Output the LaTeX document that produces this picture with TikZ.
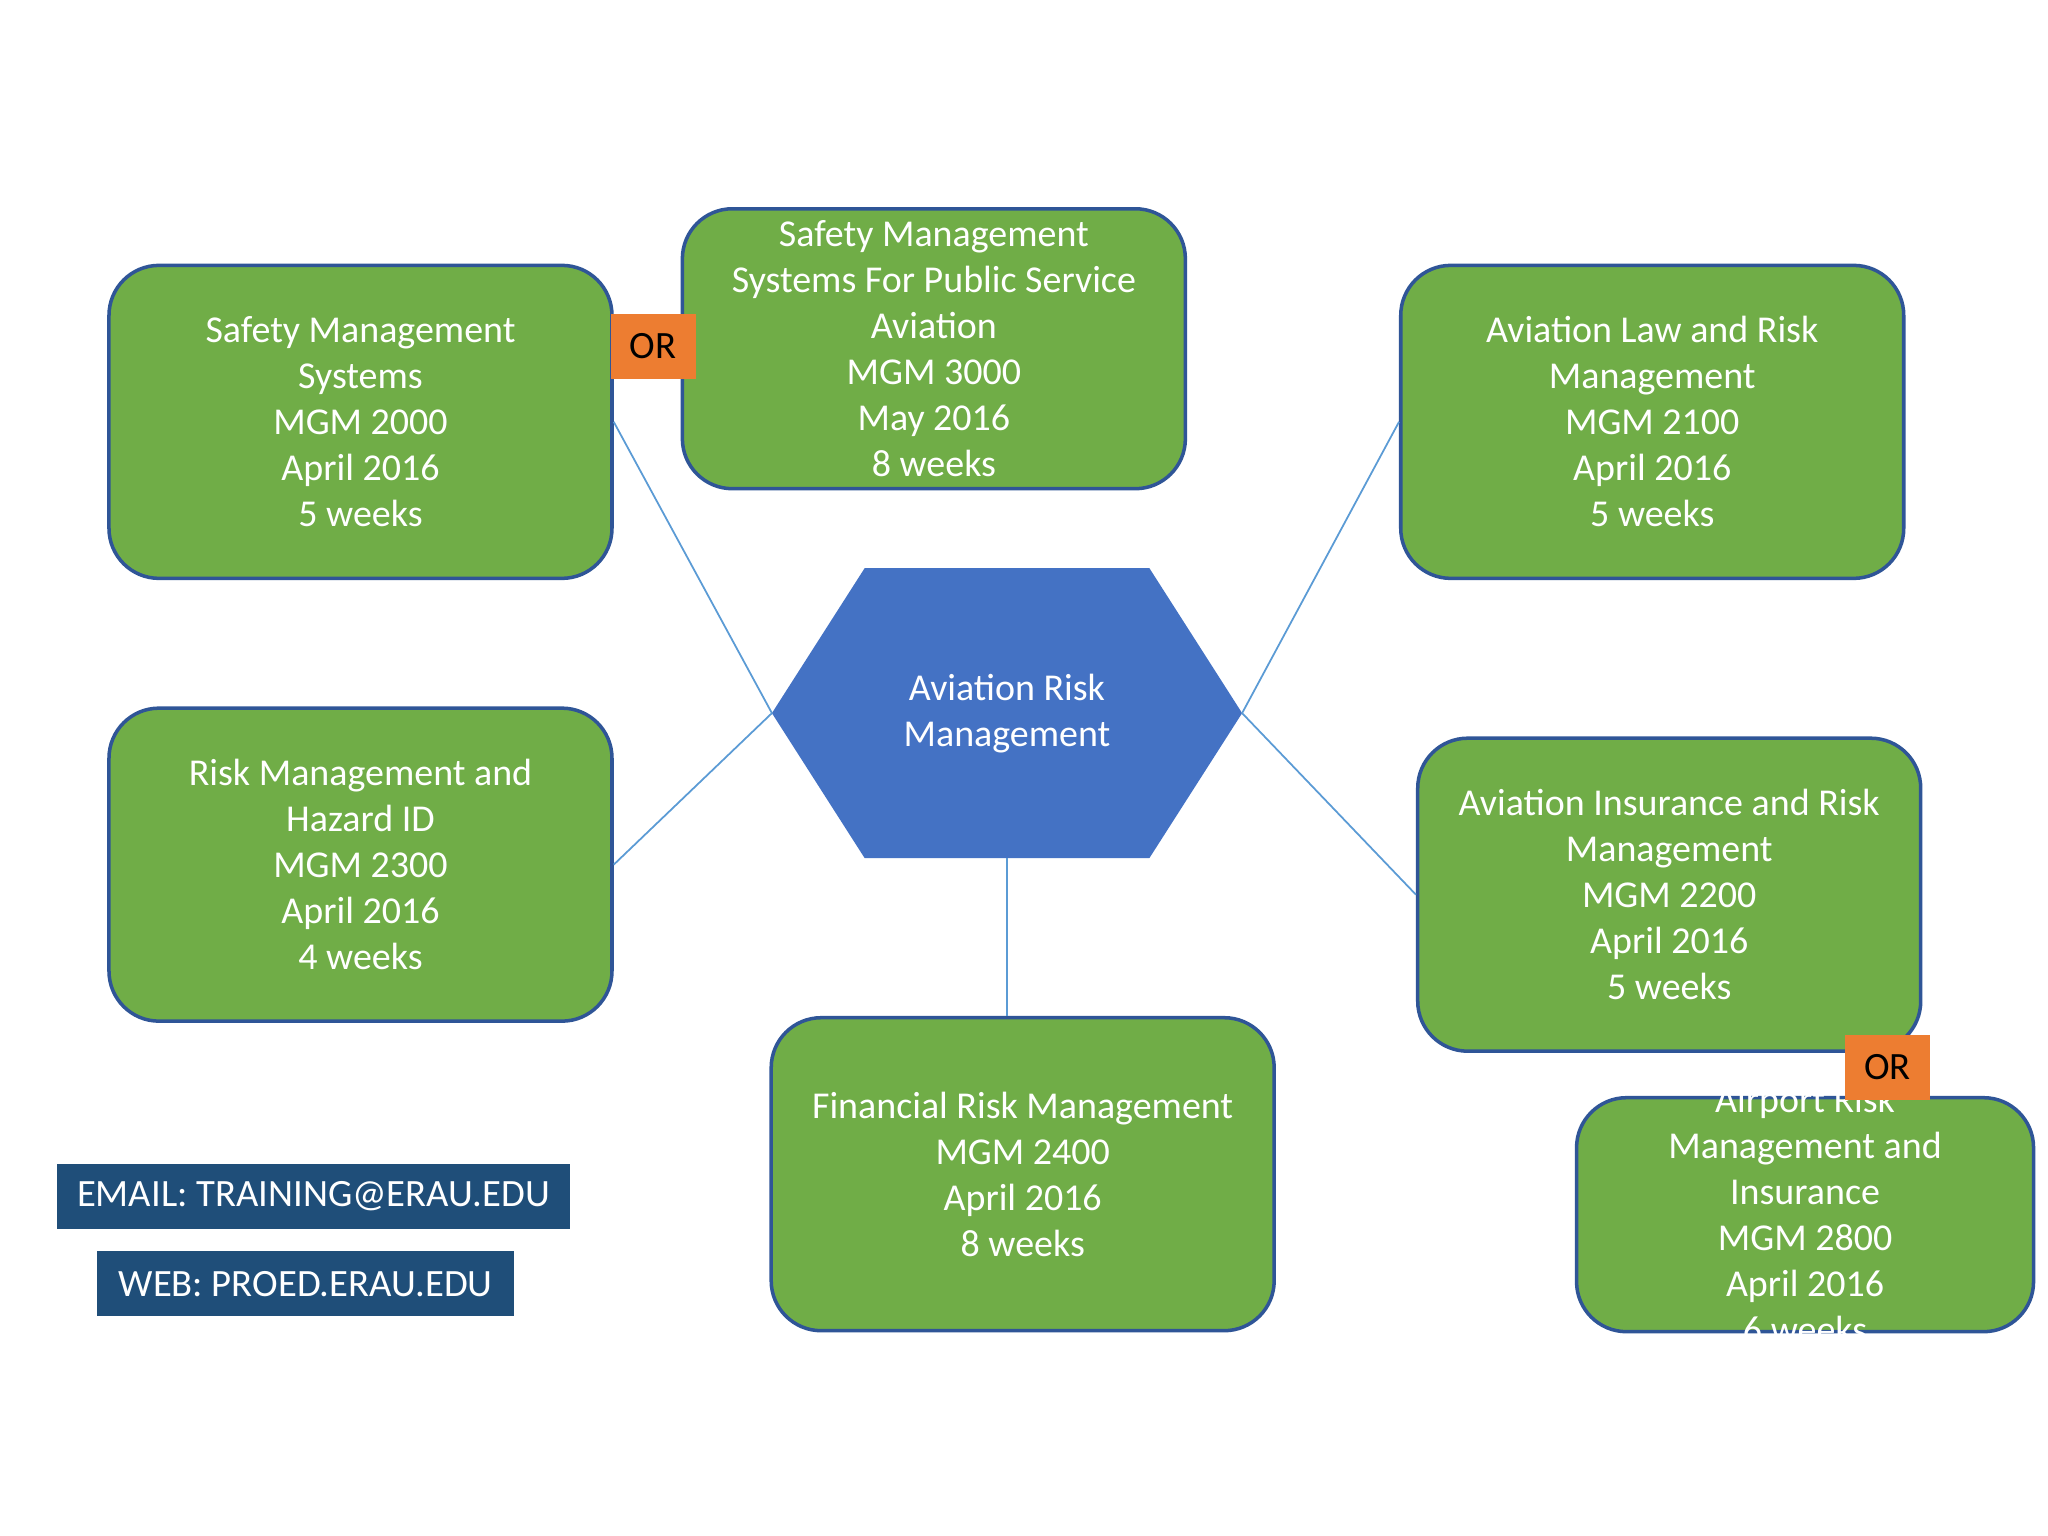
\documentclass[tikz,border=0pt]{standalone}
\usepackage{fontspec}
\setmainfont{Carlito}
\definecolor{course green}{HTML}{70AD47}
\definecolor{course edge}{HTML}{2F5597}
\definecolor{hub blue}{HTML}{4472C4}
\definecolor{link blue}{HTML}{5B9BD5}
\definecolor{or orange}{HTML}{ED7D31}
\definecolor{contact blue}{HTML}{1F4E79}
\tikzset{
  course/.style={draw=course edge, line width=1pt, fill=course green, rounded corners=0.5cm,
    text=white, align=center, minimum width=5.03cm, minimum height=3.13cm,
    font=\fontsize{10.8}{13.1}\selectfont},
  orbox/.style={fill=or orange, minimum width=0.85cm, minimum height=0.65cm,
    font=\fontsize{11}{13}\selectfont},
  contact/.style={fill=contact blue, text=white, minimum height=0.65cm,
    font=\fontsize{11}{13}\selectfont},
  link/.style={draw=link blue, line width=0.5pt}
}
\begin{document}
\begin{tikzpicture}[x=0.01306cm, y=-0.01306cm]
  \useasboundingbox[fill=white] (0,0) rectangle (1568,1176);
  % hub
  \coordinate (hl) at (591,546);
  \coordinate (hr) at (951,546);
  \coordinate (hb) at (771,657);
  \fill[hub blue] (hl) -- (662,435) -- (880,435) -- (hr) -- (880,657) -- (662,657) -- cycle;
  \node[text=white, align=center, font=\fontsize{10.8}{13.1}\selectfont] (hub) at (771,546) {Aviation Risk\\Management};
  % courses
  \node[course] (sms) at (276,323) {Safety Management\\Systems\\MGM 2000\\April 2016\\5 weeks};
  \node[course, minimum height=2.78cm] (pub) at (715,267) {Safety Management\\Systems For Public Service\\Aviation\\MGM 3000\\May 2016\\8 weeks};
  \node[course] (law) at (1265,323) {Aviation Law and Risk\\Management\\MGM 2100\\April 2016\\5 weeks};
  \node[course] (haz) at (276,662) {Risk Management and\\Hazard ID\\MGM 2300\\April 2016\\4 weeks};
  \node[course] (ins) at (1278,685) {Aviation Insurance and Risk\\Management\\MGM 2200\\April 2016\\5 weeks};
  \node[course] (fin) at (783,899) {Financial Risk Management\\MGM 2400\\April 2016\\8 weeks};
  \node[course, minimum width=4.57cm, minimum height=2.34cm] (air) at (1382,930) {};
  \begin{scope}
    \clip (air.south west) rectangle (1557,805);
    \node[text=white, align=center, font=\fontsize{10.8}{13.1}\selectfont] at (1382,930) {Airport Risk\\Management and\\Insurance\\MGM 2800\\April 2016\\6 weeks};
  \end{scope}
  % connectors
  \draw[link] (hl) -- (sms.east);
  \draw[link] (hl) -- (haz.east);
  \draw[link] (hr) -- (law.west);
  \draw[link] (hr) -- (ins.west);
  \draw[link] (hb) -- (fin.north -| hb);
  % or labels
  \node[orbox] (or1) at (500,265) {OR};
  \node[orbox] (or2) at (1445,817) {OR};
  % contact
  \node[contact, minimum width=5.13cm] (mail) at (240,916) {EMAIL: TRAINING@ERAU.EDU};
  \node[contact, minimum width=4.17cm] (web) at (234,983) {WEB: PROED.ERAU.EDU};
\end{tikzpicture}
\end{document}
